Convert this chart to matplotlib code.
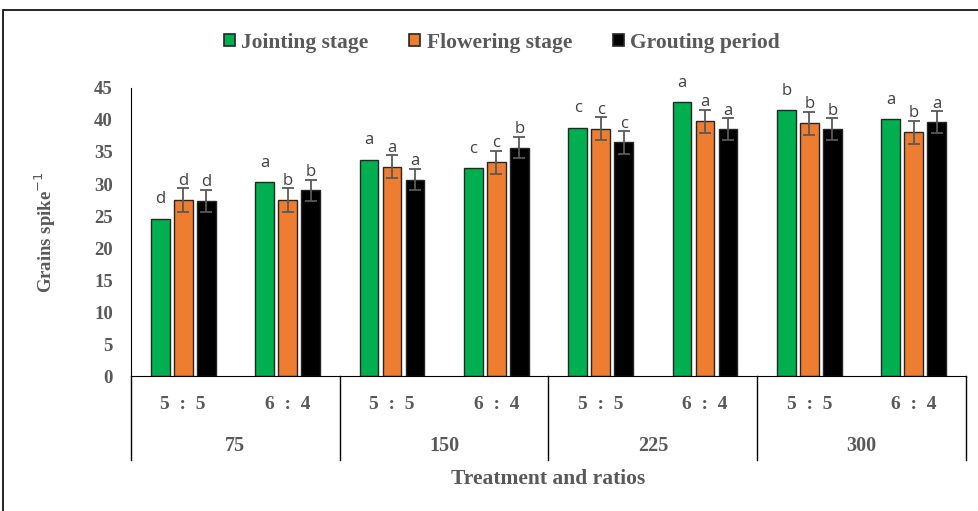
import matplotlib.pyplot as plt
import numpy as np
from matplotlib.patches import Rectangle

treatments = ["75", "150", "225", "300"]
ratios = ["5 : 5", "6 : 4"]
series_names = ["Jointing stage", "Flowering stage", "Grouting period"]

jointing = [24.6, 30.3, 33.8, 32.5, 38.8, 42.8, 41.5, 40.1]
flowering = [27.5, 27.5, 32.7, 33.4, 38.6, 39.8, 39.5, 38.1]
grouting = [27.4, 29.0, 30.7, 35.7, 36.5, 38.6, 38.6, 39.7]

flowering_err = [1.8, 1.8, 1.8, 1.8, 1.8, 1.8, 1.8, 1.8]
grouting_err = [1.7, 1.7, 1.7, 1.7, 1.75, 1.7, 1.7, 1.7]

jointing_letters = ["d", "a", "a", "c", "c", "a", "b", "a"]
flowering_letters = ["d", "b", "a", "c", "c", "a", "b", "b"]
grouting_letters = ["d", "b", "a", "b", "c", "a", "b", "a"]

colors = ["#00B050", "#ED7D31", "#000000"]
text_grey = "#595959"
serif = "Liberation Serif"

fig = plt.figure(figsize=(9.79, 5.11), dpi=100)
fig.patches.append(Rectangle((3 / 979, -0.05), 1.1, 1 - 10 / 511 + 0.05,
                             transform=fig.transFigure, fill=False,
                             edgecolor="black", linewidth=1.2))
ax = fig.add_axes([131 / 979, 135 / 511, 835 / 979, 288 / 511])

x = np.arange(len(jointing)) + 0.5
width = 0.18
step = 0.22
values = [jointing, flowering, grouting]
errs = [None, flowering_err, grouting_err]
letters = [jointing_letters, flowering_letters, grouting_letters]

for i, (vals, err, lets) in enumerate(zip(values, errs, letters)):
    pos = x + (i - 1) * step
    ax.bar(pos, vals, width, color=colors[i], edgecolor="#262626",
           linewidth=1.0, label=series_names[i], zorder=2)
    if err is not None:
        ax.errorbar(pos, vals, yerr=err, fmt="none", ecolor="#595959",
                    elinewidth=1.3, capsize=4, capthick=1.3, zorder=3)
    for k, (p, v) in enumerate(zip(pos, vals)):
        top = v + (err[k] if err is not None else 0)
        off = 2.5 if err is not None else 11
        ax.annotate(lets[k], (p, top), xytext=(0, off), textcoords="offset points",
                    ha="center", va="baseline", fontsize=12, color="#404040",
                    family="Open Sans")

ax.set_xlim(0, len(jointing))
ax.set_ylim(0, 45)
ax.set_yticks(range(0, 46, 5))
ax.tick_params(axis="y", length=0, pad=13)
ax.tick_params(axis="x", length=0, labelbottom=False)
for lab in ax.get_yticklabels():
    lab.set_family(serif)
    lab.set_fontweight("bold")
    lab.set_fontsize(13.5)
    lab.set_color(text_grey)
for s in ["top", "right"]:
    ax.spines[s].set_visible(False)
ax.spines["left"].set_color("black")
ax.spines["bottom"].set_color("black")

ax.set_ylabel("Grains spike$^{-1}$", family=serif, fontweight="bold",
              fontsize=13.5, color=text_grey, labelpad=26)

# multi-level category axis
tr = ax.get_xaxis_transform()
for xl in [0, 2, 4, 6, 8]:
    ax.plot([xl, xl], [0, -0.292], transform=tr, color="black", lw=1.0, clip_on=False)
for j, xc in enumerate(x):
    ax.text(xc, -0.10, ratios[j % 2].replace(" ", "  "), transform=tr,
            ha="center", va="center", family=serif, fontweight="bold",
            fontsize=14, color=text_grey)
for j, t in enumerate(treatments):
    ax.text(2 * j + 1, -0.243, t, transform=tr, ha="center", va="center",
            family=serif, fontweight="bold", fontsize=14.5, color=text_grey)
ax.text(4, -0.358, "Treatment and ratios", transform=tr, ha="center", va="center",
        family=serif, fontweight="bold", fontsize=15.5, color=text_grey)

leg = fig.legend(loc="center", bbox_to_anchor=(502 / 979, 1 - 43 / 511), ncol=3,
                 frameon=False, handlelength=0.5, handleheight=0.5,
                 handletextpad=0.3, columnspacing=1.9,
                 prop={"family": serif, "weight": "bold", "size": 15.5})
for t in leg.get_texts():
    t.set_color(text_grey)
for h in leg.legend_handles:
    h.set_edgecolor("#262626")
    h.set_linewidth(1.2)

fig.savefig("out.png", dpi=100)
